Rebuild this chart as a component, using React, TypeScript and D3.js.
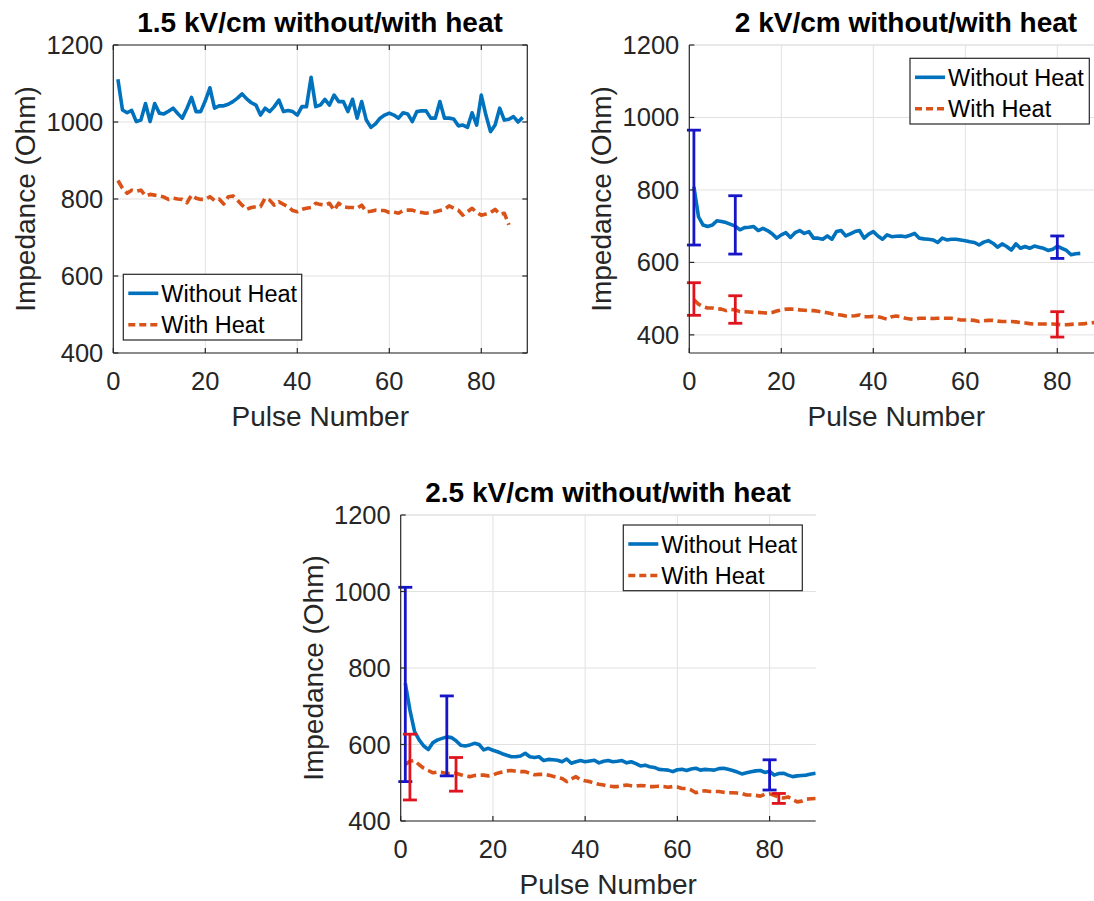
import React from 'react';
import * as d3 from 'd3';

// ---------- DATA ----------
const titles = ['1.5 kV/cm without/with heat', '2 kV/cm without/with heat', '2.5 kV/cm without/with heat'];
const xLabel = 'Pulse Number';
const yLabel = 'Impedance (Ohm)';
const legendLabels = ['Without Heat', 'With Heat'];
const xTicks = [0, 20, 40, 60, 80];
const yTicks = [400, 600, 800, 1000, 1200];

// Panel 1 (1.5 kV/cm), pulse 1..n
const p1WithoutHeat = [
  1111, 1031, 1024, 1030, 1001, 1005, 1048, 1001, 1048, 1023,
  1021, 1028, 1036, 1022, 1010, 1035, 1064, 1027, 1027, 1055,
  1089, 1036, 1042, 1042, 1046, 1053, 1062, 1073, 1060, 1050,
  1044, 1018, 1036, 1027, 1040, 1057, 1027, 1030, 1027, 1018,
  1040, 1040, 1116, 1040, 1044, 1059, 1044, 1070, 1053, 1053,
  1027, 1059, 1010, 1053, 1005, 986, 995, 1010, 1018, 1023,
  1018, 1010, 1024, 1021, 1001, 1027, 1029, 1029, 1010, 1010,
  1053, 1010, 1010, 1008, 990, 992, 986, 1024, 992, 1070,
  1018, 975, 992, 1036, 1005, 1007, 1014, 1000, 1012,
];
const p1WithHeat = [
  848, 828, 815, 823, 820, 823, 808, 812, 810, 808,
  805, 799, 802, 800, 799, 790, 810, 802, 799, 799,
  806, 796, 800, 787, 806, 808, 797, 784, 773, 778,
  780, 780, 802, 797, 784, 793, 786, 780, 770, 767,
  773, 776, 778, 789, 786, 784, 789, 771, 789, 780,
  778, 778, 776, 784, 767, 768, 771, 770, 770, 765,
  766, 763, 770, 771, 771, 767, 765, 763, 765, 767,
  770, 773, 782, 776, 771, 758, 767, 776, 765, 758,
  761, 765, 773, 761, 763, 733,
];

// Panel 2 (2 kV/cm)
const p2WithoutHeat = [
  809, 726, 703, 699, 703, 715, 713, 710, 705, 700,
  690, 696, 697, 699, 688, 694, 688, 679, 667, 676,
  682, 669, 682, 688, 680, 685, 667, 667, 664, 673,
  664, 685, 688, 673, 679, 685, 688, 667, 678, 685,
  673, 664, 676, 671, 672, 673, 671, 675, 680, 667,
  665, 664, 662, 655, 667, 662, 664, 664, 662, 660,
  657, 655, 648, 656, 660, 653, 642, 651, 644, 634,
  651, 639, 644, 639, 645, 642, 639, 633, 636, 645,
  639, 633, 621, 624, 625,
];
const p2WithHeat = [
  497, 485, 478, 474, 474, 472, 471, 467, 470, 469,
  464, 464, 463, 462, 462, 461, 460, 462, 466, 469,
  471, 471, 471, 469, 468, 467, 467, 465, 463, 461,
  458, 456, 455, 452, 452, 453, 455, 450, 450, 451,
  450, 447, 443, 450, 452, 450, 446, 444, 443, 446,
  446, 446, 445, 446, 446, 446, 446, 444, 441, 441,
  441, 440, 437, 439, 440, 440, 438, 437, 437, 437,
  436, 434, 433, 431, 430, 430, 430, 430, 430, 429,
  428, 428, 429, 430, 430, 431, 433, 434, 432, 433,
];
const p2ErrWithout = [
  { x: 1, lo: 648, hi: 965 },
  { x: 10, lo: 623, hi: 784 },
  { x: 80, lo: 611, hi: 673 },
];
const p2ErrWith = [
  { x: 1, lo: 454, hi: 544 },
  { x: 10, lo: 432, hi: 508 },
  { x: 80, lo: 394, hi: 464 },
];

// Panel 3 (2.5 kV/cm)
const p3WithoutHeat = [
  760, 690, 634, 612, 596, 587, 605, 612, 616, 620,
  618, 610, 598, 596, 599, 603, 600, 586, 590, 585,
  581, 576, 572, 568, 568, 570, 577, 568, 566, 568,
  558, 561, 560, 559, 555, 562, 551, 555, 558, 555,
  557, 559, 552, 556, 558, 555, 556, 558, 552, 555,
  550, 544, 546, 542, 540, 535, 534, 533, 529, 534,
  535, 532, 536, 538, 533, 535, 534, 533, 537, 538,
  535, 532, 528, 523, 526, 529, 531, 532, 527, 530,
  520, 524, 525, 520, 516, 518, 519, 520, 523, 525,
];
const p3WithHeat = [
  548, 556, 558, 547, 538, 532, 526, 528, 527, 524,
  524, 525, 521, 518, 516, 519, 520, 520, 518, 520,
  525, 528, 531, 532, 530, 529, 529, 525, 521, 522,
  522, 520, 517, 514, 511, 503, 510, 516, 508, 505,
  503, 499, 496, 494, 491, 490, 490, 492, 494, 492,
  491, 493, 492, 490, 490, 491, 490, 488, 490, 489,
  485, 485, 481, 474, 478, 479, 477, 477, 477, 475,
  474, 474, 473, 472, 468, 468, 467, 465, 470, 471,
  467, 462, 460, 463, 456, 450, 452, 457, 458, 459,
];
const p3ErrWithout = [
  { x: 1, lo: 503, hi: 1011 },
  { x: 10, lo: 518, hi: 727 },
  { x: 80, lo: 481, hi: 560 },
];
const p3ErrWith = [
  { x: 2, lo: 455, hi: 627 },
  { x: 12, lo: 478, hi: 566 },
  { x: 82, lo: 446, hi: 472 },
];

// ---------- STYLE ----------
const FONT = '"Liberation Sans", Arial, Helvetica, sans-serif';
const BLUE = '#0072BD';
const ORANGE = '#D95319';
const ERR_BLUE = '#1616C8';
const ERR_RED = '#E0141E';
const AXIS = '#262626';
const GRID = '#e1e1e1';
const LW = 3.6;

type Err = { x: number; lo: number; hi: number };

type PanelProps = {
  id: string;
  left: number;
  top: number;
  width: number;
  height: number;
  yDomain: [number, number];
  title: string;
  titleX: number;
  titleY: number;
  withoutHeat: number[];
  withHeat: number[];
  errWithout?: Err[];
  errWith?: Err[];
  legend: { x: number; y: number; w: number; h: number };
  box: boolean;
};

function Panel(p: PanelProps) {
  const x = d3.scaleLinear().domain([0, 90]).range([p.left, p.left + p.width]);
  const y = d3.scaleLinear().domain(p.yDomain).range([p.top + p.height, p.top]);
  const bottom = p.top + p.height;
  const right = p.left + p.width;
  const line = d3
    .line<number>()
    .x((_, i) => x(i + 1))
    .y((d) => y(d));
  const yGrid = yTicks.filter((t) => t >= p.yDomain[0] && t <= p.yDomain[1]);
  const cap = 7;
  const tickLen = 5;

  const errBars = (errs: Err[] | undefined, color: string) =>
    (errs || []).map((e, i) => (
      <g key={color + i} stroke={color} strokeWidth={2.8} fill="none">
        <line x1={x(e.x)} x2={x(e.x)} y1={y(e.lo)} y2={y(e.hi)} />
        <line x1={x(e.x) - cap} x2={x(e.x) + cap} y1={y(e.lo)} y2={y(e.lo)} />
        <line x1={x(e.x) - cap} x2={x(e.x) + cap} y1={y(e.hi)} y2={y(e.hi)} />
      </g>
    ));

  const lg = p.legend;
  const row1 = lg.y + 19;
  const row2 = lg.y + 50.5;

  return (
    <g>
      <defs>
        <clipPath id={p.id}>
          <rect x={p.left} y={p.top - 2} width={p.width} height={p.height + 4} />
        </clipPath>
      </defs>
      {/* grid */}
      {xTicks.filter((t) => t > 0).map((t) => (
        <line key={'gx' + t} x1={x(t)} x2={x(t)} y1={p.top} y2={bottom} stroke={GRID} strokeWidth={1} />
      ))}
      {yGrid.map((t) => (
        <line key={'gy' + t} x1={p.left} x2={right} y1={y(t)} y2={y(t)} stroke={GRID} strokeWidth={1} />
      ))}
      {!p.box && <line x1={p.left} x2={right} y1={p.top} y2={p.top} stroke={GRID} strokeWidth={1} />}

      {/* data */}
      <g clipPath={`url(#${p.id})`}>
        <path d={line(p.withHeat) || ''} fill="none" stroke={ORANGE} strokeWidth={LW} strokeDasharray="9,4.5" strokeLinejoin="round" />
        <path d={line(p.withoutHeat) || ''} fill="none" stroke={BLUE} strokeWidth={LW} strokeLinejoin="round" />
      </g>
      {errBars(p.errWithout, ERR_BLUE)}
      {errBars(p.errWith, ERR_RED)}

      {/* axes */}
      <g stroke={AXIS} strokeWidth={1.2} fill="none">
        <line x1={p.left} x2={p.left} y1={p.top} y2={bottom} />
        <line x1={p.left} x2={right} y1={bottom} y2={bottom} />
        {p.box && <line x1={p.left} x2={right} y1={p.top} y2={p.top} />}
        {p.box && <line x1={right} x2={right} y1={p.top} y2={bottom} />}
        {xTicks.map((t) => (
          <line key={'tx' + t} x1={x(t)} x2={x(t)} y1={bottom} y2={bottom - tickLen} />
        ))}
        {p.box && xTicks.map((t) => (
          <line key={'txt' + t} x1={x(t)} x2={x(t)} y1={p.top} y2={p.top + tickLen} />
        ))}
        {yGrid.map((t) => (
          <line key={'ty' + t} x1={p.left} x2={p.left + tickLen} y1={y(t)} y2={y(t)} />
        ))}
        {p.box && yGrid.map((t) => (
          <line key={'tyr' + t} x1={right} x2={right - tickLen} y1={y(t)} y2={y(t)} />
        ))}
      </g>

      {/* tick labels */}
      <g fontFamily={FONT} fontSize={25.5} fill={AXIS}>
        {xTicks.map((t) => (
          <text key={'lx' + t} x={x(t)} y={bottom + 37} textAnchor="middle">{t}</text>
        ))}
        {yGrid.map((t) => (
          <text key={'ly' + t} x={p.left - 10} y={y(t) + 9} textAnchor="end">{t}</text>
        ))}
      </g>

      {/* axis labels */}
      <text x={(p.left + right) / 2} y={bottom + 73} textAnchor="middle" fontFamily={FONT} fontSize={28} fill={AXIS}>
        {xLabel}
      </text>
      <text
        transform={`translate(${p.left - 78},${p.top + p.height / 2}) rotate(-90)`}
        textAnchor="middle"
        fontFamily={FONT}
        fontSize={28}
        fill={AXIS}
      >
        {yLabel}
      </text>

      {/* title */}
      <text x={p.titleX} y={p.titleY} textAnchor="middle" fontFamily={FONT} fontSize={28} fontWeight="bold" fill="#000">
        {p.title}
      </text>

      {/* legend */}
      <rect x={lg.x} y={lg.y} width={lg.w} height={lg.h} fill="#fff" stroke={AXIS} strokeWidth={1.2} />
      <line x1={lg.x + 5} x2={lg.x + 35} y1={row1} y2={row1} stroke={BLUE} strokeWidth={LW} />
      <line x1={lg.x + 5} x2={lg.x + 35} y1={row2} y2={row2} stroke={ORANGE} strokeWidth={LW} strokeDasharray="7,4" />
      <g fontFamily={FONT} fontSize={23.5} fill="#000">
        <text x={lg.x + 38} y={row1 + 8.5}>{legendLabels[0]}</text>
        <text x={lg.x + 38} y={row2 + 8.5}>{legendLabels[1]}</text>
      </g>
    </g>
  );
}

export default function App() {
  return (
    <svg
      width={1094}
      height={901}
      viewBox="0 0 1094 901"
      style={{ position: 'absolute', left: 0, top: 0, background: '#fff', display: 'block' }}
    >
      <rect x={0} y={0} width={1094} height={901} fill="#fff" />
      <Panel
        id="clip1"
        left={113.3}
        top={45}
        width={414}
        height={308}
        yDomain={[400, 1200]}
        title={titles[0]}
        titleX={320}
        titleY={32}
        withoutHeat={p1WithoutHeat}
        withHeat={p1WithHeat}
        legend={{ x: 123.3, y: 274.3, w: 178.4, h: 65.7 }}
        box={true}
      />
      <Panel
        id="clip2"
        left={689.3}
        top={45}
        width={414}
        height={308}
        yDomain={[350, 1200]}
        title={titles[1]}
        titleX={906}
        titleY={32}
        withoutHeat={p2WithoutHeat}
        withHeat={p2WithHeat}
        errWithout={p2ErrWithout}
        errWith={p2ErrWith}
        legend={{ x: 910, y: 58.3, w: 179.3, h: 65.7 }}
        box={false}
      />
      <Panel
        id="clip3"
        left={400.7}
        top={515}
        width={415}
        height={306}
        yDomain={[400, 1200]}
        title={titles[2]}
        titleX={608}
        titleY={502}
        withoutHeat={p3WithoutHeat}
        withHeat={p3WithHeat}
        errWithout={p3ErrWithout}
        errWith={p3ErrWith}
        legend={{ x: 623.3, y: 525, w: 179, h: 65.7 }}
        box={false}
      />
    </svg>
  );
}
